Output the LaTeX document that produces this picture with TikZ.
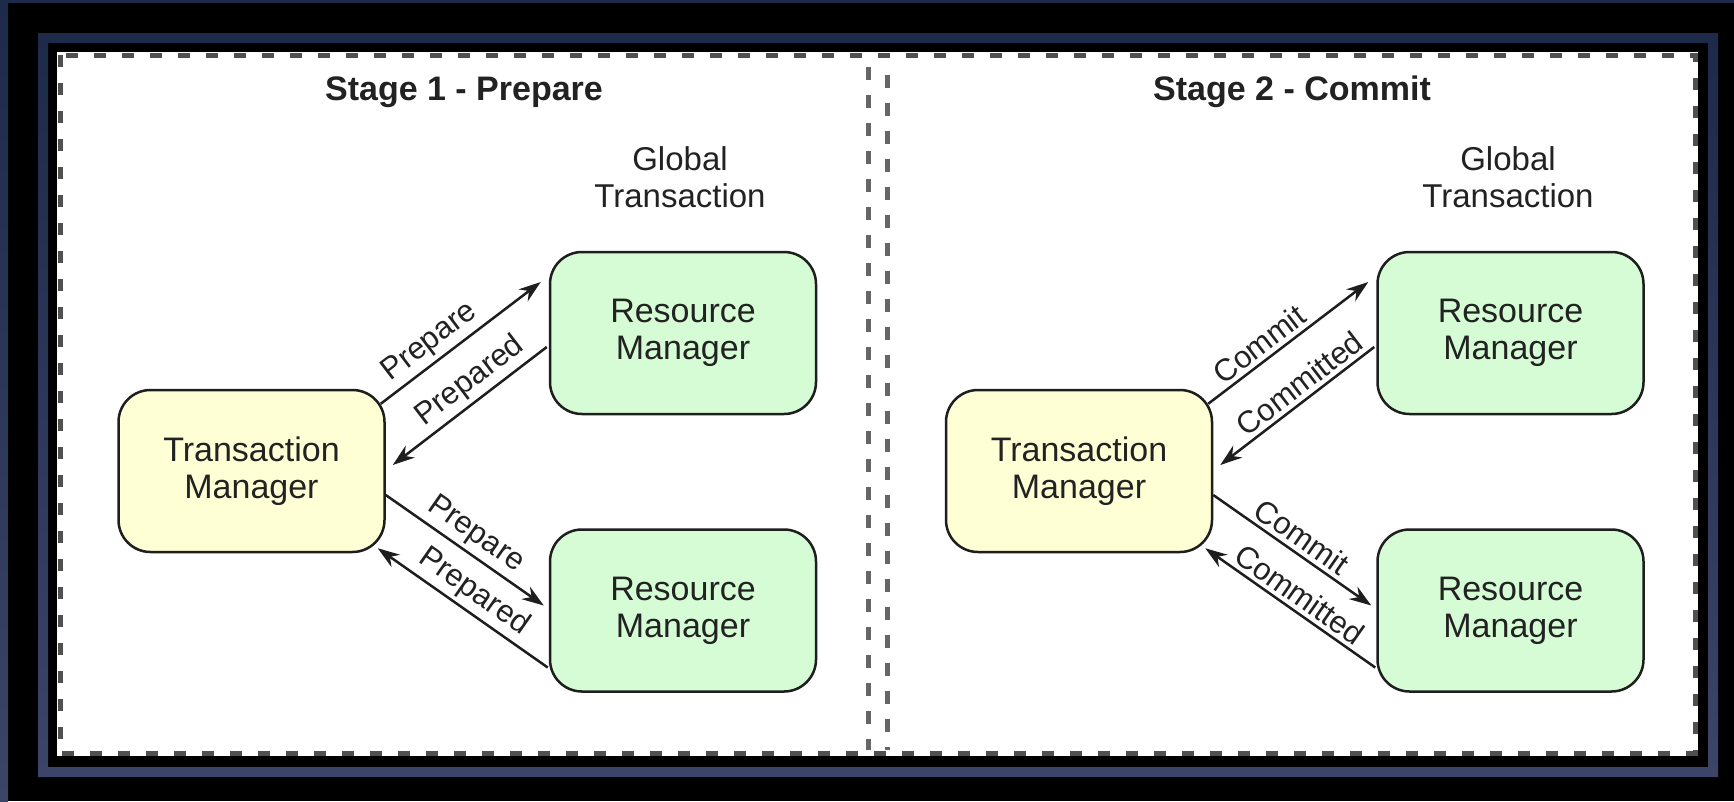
\documentclass[tikz,border=0pt]{standalone}
\usepackage{fontspec}
\setmainfont{Liberation Sans}
\usetikzlibrary{arrows.meta,calc}
\definecolor{navytop}{HTML}{1E2A4A}
\definecolor{navybot}{HTML}{3C4468}
\definecolor{dashgray}{HTML}{505050}
\definecolor{divgray}{HTML}{666666}
\definecolor{boxline}{HTML}{1E1E1E}
\definecolor{txt}{HTML}{222222}
\definecolor{tmfill}{HTML}{FFFFD6}
\definecolor{rmfill}{HTML}{D5FCD5}
\begin{document}
\begin{tikzpicture}[x=1pt,y=-1pt,
  box/.style={draw=boxline, line width=2.5pt, rounded corners=32pt,
    minimum width=266pt, minimum height=162pt, align=center,
    font=\fontsize{34}{37}\selectfont, text=txt},
  tmbox/.style={box, fill=tmfill},
  rmbox/.style={box, fill=rmfill},
  msg/.style={draw=boxline, line width=2.5pt, -{Stealth[length=22pt,width=15pt]}},
  lbl/.style={sloped, above, font=\fontsize{31}{34}\selectfont, text=txt, inner sep=4pt},
  stagetitle/.style={font=\bfseries\fontsize{34}{38}\selectfont, text=txt},
  gtx/.style={align=center, font=\fontsize{33}{37}\selectfont, text=txt}
]
\useasboundingbox (0,0) rectangle (1734,801);
% outer frame
\fill[black] (0,0) rectangle (1734,801);
\shade[top color=navytop, bottom color=navybot] (0,0) rectangle (8,801);
\fill[navytop] (0,0) rectangle (1734,3);
\shade[top color=navytop, bottom color=navybot, even odd rule]
  (38,33) rectangle (1718,777) (48,43) rectangle (1708,767);
% white panel with dashed rim
\fill[white] (57,52) rectangle (1698,756);
\draw[dashgray, line width=5pt, dash pattern=on 12pt off 16pt] (60,55) rectangle (1695,753);
% stage divider
\draw[divgray, line width=5pt, dash pattern=on 13pt off 15pt] (868,67) -- (868,750);
\draw[divgray, line width=5pt, dash pattern=on 13pt off 15pt] (887,75) -- (887,750);

% ---------- Stage 1 ----------
\node[stagetitle] (t1) at (464,92) {Stage 1 - Prepare};
\node[gtx] (g1) at (680,177) {Global\\Transaction};
\node[tmbox] (tm1) at (251.5,471) {Transaction\\Manager};
\node[rmbox] (rma) at (683,333) {Resource\\Manager};
\node[rmbox] (rmb) at (683,610.5) {Resource\\Manager};

\draw[msg] ($(tm1.north east)+(-5,15)$) -- node[lbl,pos=0.38]{Prepare} ($(rma.west)+(-8,-51)$);
\draw[msg] ($(rma.west)+(-2,14)$) -- node[lbl,pos=0.42]{Prepared} ($(tm1.east)+(7,-6)$);
\draw[msg] ($(tm1.east)+(0,24)$) -- node[lbl,pos=0.5]{Prepare} ($(rmb.west)+(-5,-5)$);
\draw[msg] ($(rmb.west)+(-1,57)$) -- node[lbl,pos=0.5]{Prepared} ($(tm1.south east)+(-8,-5)$);

% ---------- Stage 2 ----------
\node[stagetitle] (t2) at (1292,92) {Stage 2 - Commit};
\node[gtx] (g2) at (1508,177) {Global\\Transaction};
\node[tmbox] (tm2) at (1079,471) {Transaction\\Manager};
\node[rmbox] (rmc) at (1510.5,333) {Resource\\Manager};
\node[rmbox] (rmd) at (1510.5,610.5) {Resource\\Manager};

\draw[msg] ($(tm2.north east)+(-5,15)$) -- node[lbl,pos=0.38]{Commit} ($(rmc.west)+(-8,-51)$);
\draw[msg] ($(rmc.west)+(-2,14)$) -- node[lbl,pos=0.42]{Committed} ($(tm2.east)+(7,-6)$);
\draw[msg] ($(tm2.east)+(0,24)$) -- node[lbl,pos=0.5]{Commit} ($(rmd.west)+(-5,-5)$);
\draw[msg] ($(rmd.west)+(-1,57)$) -- node[lbl,pos=0.5]{Committed} ($(tm2.south east)+(-8,-5)$);
\end{tikzpicture}
\end{document}
